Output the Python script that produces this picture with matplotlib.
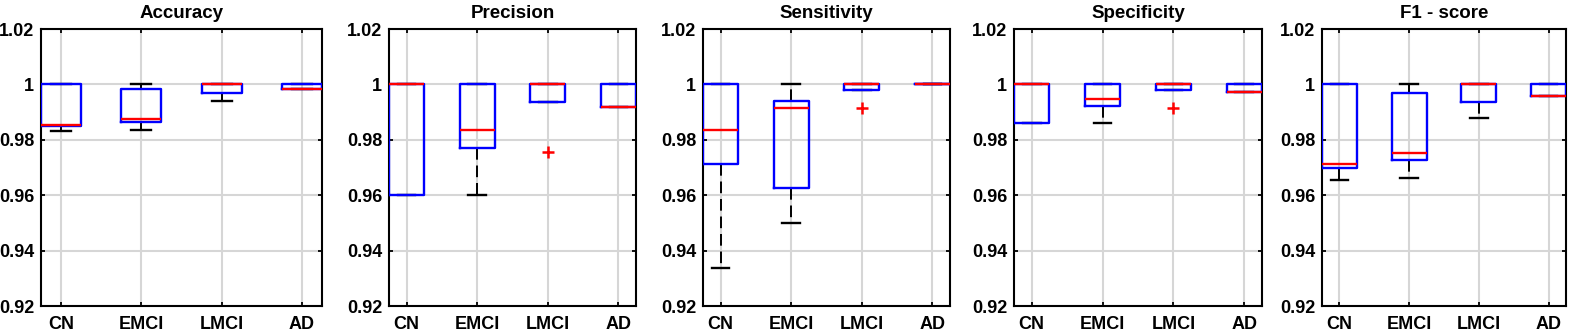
import numpy as np
import matplotlib
matplotlib.use("Agg")
import matplotlib.pyplot as plt

plt.rcParams['font.family'] = ['Liberation Sans', 'DejaVu Sans']
plt.rcParams['font.weight'] = 'bold'

groups = ["CN", "EMCI", "LMCI", "AD"]
titles = ["Accuracy", "Precision", "Sensitivity", "Specificity", "F1 - score"]

# per metric: lower whisker, Q1, median, Q3, upper whisker (one value per group)
acc_lo  = [0.9833, 0.9834, 0.9939, 0.9982]
acc_q1  = [0.9851, 0.9865, 0.9970, 0.9982]
acc_med = [0.9853, 0.9876, 1.0000, 0.9982]
acc_q3  = [1.0000, 0.9984, 1.0000, 1.0000]
acc_hi  = [1.0000, 1.0000, 1.0000, 1.0000]
acc_out = [[], [], [], []]

pre_lo  = [0.9600, 0.9600, 0.9937, 0.9917]
pre_q1  = [0.9600, 0.9772, 0.9937, 0.9917]
pre_med = [1.0000, 0.9834, 1.0000, 0.9917]
pre_q3  = [1.0000, 1.0000, 1.0000, 1.0000]
pre_hi  = [1.0000, 1.0000, 1.0000, 1.0000]
pre_out = [[], [], [0.9755], []]

sen_lo  = [0.9336, 0.9501, 0.9980, 1.0000]
sen_q1  = [0.9711, 0.9625, 0.9980, 1.0000]
sen_med = [0.9834, 0.9916, 1.0000, 1.0000]
sen_q3  = [1.0000, 0.9940, 1.0000, 1.0000]
sen_hi  = [1.0000, 1.0000, 1.0000, 1.0000]
sen_out = [[], [], [0.9916], []]

spe_lo  = [0.9861, 0.9861, 0.9980, 0.9973]
spe_q1  = [0.9861, 0.9922, 0.9980, 0.9973]
spe_med = [1.0000, 0.9946, 1.0000, 0.9973]
spe_q3  = [1.0000, 1.0000, 1.0000, 1.0000]
spe_hi  = [1.0000, 1.0000, 1.0000, 1.0000]
spe_out = [[], [], [0.9916], []]

f1_lo  = [0.9655, 0.9663, 0.9877, 0.9959]
f1_q1  = [0.9699, 0.9727, 0.9937, 0.9959]
f1_med = [0.9713, 0.9753, 1.0000, 0.9959]
f1_q3  = [1.0000, 0.9970, 1.0000, 1.0000]
f1_hi  = [1.0000, 1.0000, 1.0000, 1.0000]
f1_out = [[], [], [], []]

metrics = [
    (acc_lo, acc_q1, acc_med, acc_q3, acc_hi, acc_out),
    (pre_lo, pre_q1, pre_med, pre_q3, pre_hi, pre_out),
    (sen_lo, sen_q1, sen_med, sen_q3, sen_hi, sen_out),
    (spe_lo, spe_q1, spe_med, spe_q3, spe_hi, spe_out),
    (f1_lo, f1_q1, f1_med, f1_q3, f1_hi, f1_out),
]

W, H = 1569, 332
fig = plt.figure(figsize=(W/100, H/100), dpi=100)
xpix = [(41, 322), (389, 636), (703, 950), (1014, 1262), (1322, 1566)]
top, bot = 29, 306

for (x0, x1), title, m in zip(xpix, titles, metrics):
    ax = fig.add_axes([x0/W, 1-bot/H, (x1-x0)/W, (bot-top)/H])
    lo, q1, med, q3, hi, out = m
    stats = []
    for i in range(len(groups)):
        stats.append(dict(whislo=lo[i], q1=q1[i], med=med[i], q3=q3[i],
                          whishi=hi[i], fliers=out[i], label=groups[i]))
    ax.bxp(stats, widths=0.5, showfliers=True,
           boxprops=dict(color='#0000ff', lw=1.7, zorder=4),
           medianprops=dict(color='#ff0000', lw=1.7, zorder=5),
           whiskerprops=dict(color='k', lw=1.4, linestyle=(0, (6, 3)), zorder=2),
           capprops=dict(color='k', lw=1.7, zorder=2),
           flierprops=dict(marker='+', markeredgecolor='#ff0000',
                           markersize=9, markeredgewidth=1.8, linestyle='none'))
    ax.set_xlim(0.75, 4.25)
    ax.set_ylim(0.92, 1.02)
    ax.set_yticks([0.92, 0.94, 0.96, 0.98, 1.0, 1.02])
    ax.set_yticklabels(["0.92", "0.94", "0.96", "0.98", "1", "1.02"])
    ax.set_xticks([1, 2, 3, 4])
    ax.set_xticklabels(groups)
    ax.grid(True, color='#d6d6d6', lw=1.5)
    ax.set_axisbelow(True)
    ax.tick_params(direction='in', length=3, width=1.3, top=True, right=True,
                   labelsize=13)
    ax.tick_params(axis='x', pad=7)
    ax.tick_params(axis='y', pad=5)
    for s in ax.spines.values():
        s.set_linewidth(1.5)
    ax.set_title(title, fontsize=13.5, fontweight='bold', pad=8)

fig.savefig("out.png", dpi=100)
